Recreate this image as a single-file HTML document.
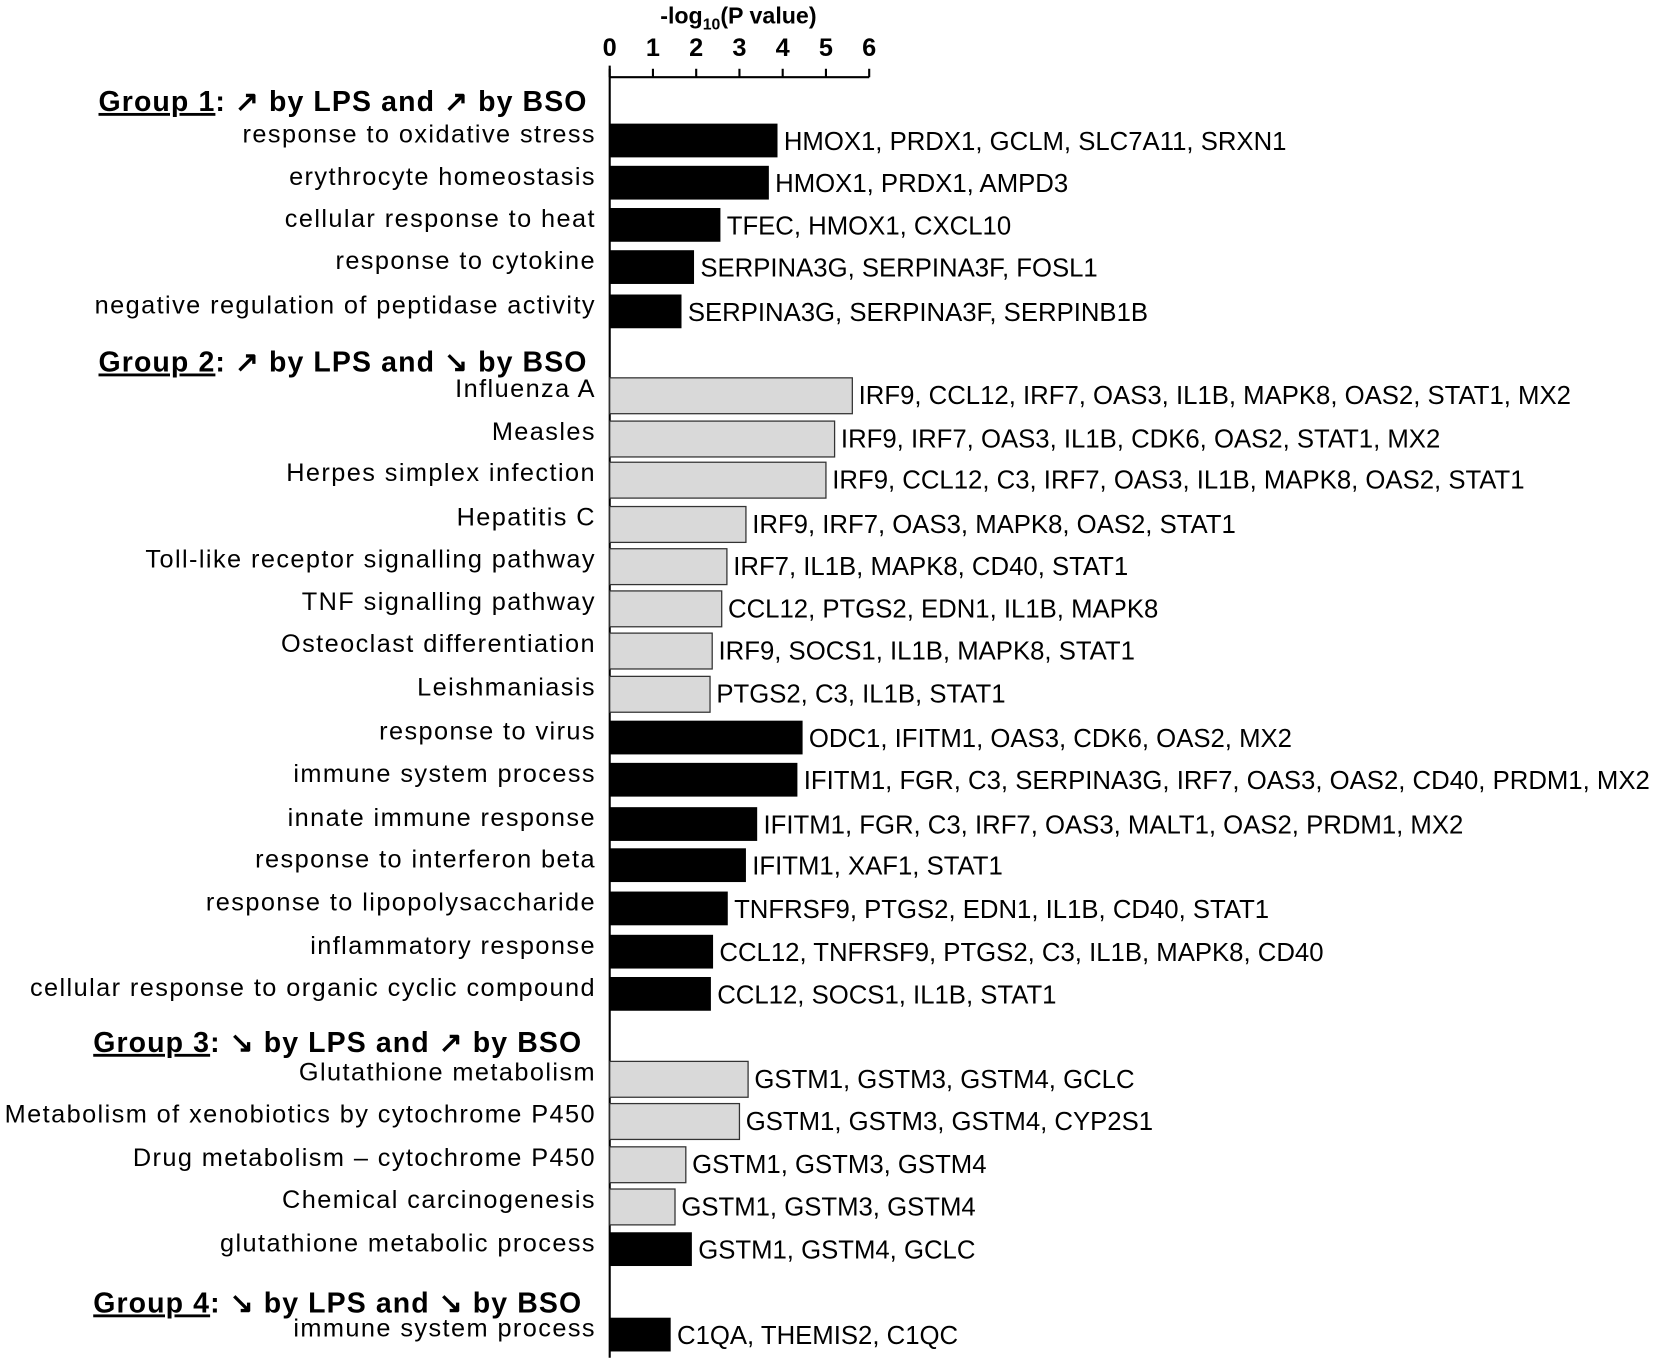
<!DOCTYPE html>
<html><head><meta charset="utf-8"><style>
html,body{margin:0;padding:0;background:#fff}
svg{display:block}
text{font-family:"Liberation Sans",sans-serif;fill:#000}
</style></head><body>
<svg id="chart" width="1654" height="1358" viewBox="0 0 1568 1287" xmlns="http://www.w3.org/2000/svg">
<text x="700" y="22" text-anchor="middle" font-weight="bold" font-size="22">-log<tspan font-size="15" dy="6">10</tspan><tspan dy="-6">(P value)</tspan></text>
<g id="axis"></g><g id="bars"></g><g id="labels"></g>
</svg>
<script>
const categories=["response to oxidative stress","erythrocyte homeostasis","cellular response to heat","response to cytokine","negative regulation of peptidase activity","Influenza A","Measles","Herpes simplex infection","Hepatitis C","Toll-like receptor signalling pathway","TNF signalling pathway","Osteoclast differentiation","Leishmaniasis","response to virus","immune system process","innate immune response","response to interferon beta","response to lipopolysaccharide","inflammatory response","cellular response to organic cyclic compound","Glutathione metabolism","Metabolism of xenobiotics by cytochrome P450","Drug metabolism – cytochrome P450","Chemical carcinogenesis","glutathione metabolic process","immune system process"];
const values=[3.88,3.68,2.56,1.95,1.66,5.61,5.2,5.0,3.15,2.71,2.59,2.37,2.32,4.46,4.34,3.41,3.15,2.73,2.39,2.34,3.2,3.0,1.76,1.51,1.9,1.41];
const kinds=["go","go","go","go","go","kegg","kegg","kegg","kegg","kegg","kegg","kegg","kegg","go","go","go","go","go","go","go","kegg","kegg","kegg","kegg","go","go"];
const genes=["HMOX1, PRDX1, GCLM, SLC7A11, SRXN1","HMOX1, PRDX1, AMPD3","TFEC, HMOX1, CXCL10","SERPINA3G, SERPINA3F, FOSL1","SERPINA3G, SERPINA3F, SERPINB1B","IRF9, CCL12, IRF7, OAS3, IL1B, MAPK8, OAS2, STAT1, MX2","IRF9, IRF7, OAS3, IL1B, CDK6, OAS2, STAT1, MX2","IRF9, CCL12, C3, IRF7, OAS3, IL1B, MAPK8, OAS2, STAT1","IRF9, IRF7, OAS3, MAPK8, OAS2, STAT1","IRF7, IL1B, MAPK8, CD40, STAT1","CCL12, PTGS2, EDN1, IL1B, MAPK8","IRF9, SOCS1, IL1B, MAPK8, STAT1","PTGS2, C3, IL1B, STAT1","ODC1, IFITM1, OAS3, CDK6, OAS2, MX2","IFITM1, FGR, C3, SERPINA3G, IRF7, OAS3, OAS2, CD40, PRDM1, MX2","IFITM1, FGR, C3, IRF7, OAS3, MALT1, OAS2, PRDM1, MX2","IFITM1, XAF1, STAT1","TNFRSF9, PTGS2, EDN1, IL1B, CD40, STAT1","CCL12, TNFRSF9, PTGS2, C3, IL1B, MAPK8, CD40","CCL12, SOCS1, IL1B, STAT1","GSTM1, GSTM3, GSTM4, GCLC","GSTM1, GSTM3, GSTM4, CYP2S1","GSTM1, GSTM3, GSTM4","GSTM1, GSTM3, GSTM4","GSTM1, GSTM4, GCLC","C1QA, THEMIS2, C1QC"];
const barTops=[117,157,197,237,279,358,399,438,480,520,560,600,641,683,723,765,804,845,886,926,1006,1046,1087,1127,1168,1249];
const groupNames=["Group 1","Group 2","Group 3","Group 4"];
const groupArrows=[["↗","↗"],["↗","↘"],["↘","↗"],["↘","↘"]];
const groupY=[105,352,997,1244];
const ticks=[0,1,2,3,4,5,6];
const NS="http://www.w3.org/2000/svg";
const X0=578,UNIT=41,BH=32;
const xs=v=>X0+v*UNIT;
function mk(t,a,p){const e=document.createElementNS(NS,t);for(const k in a)e.setAttribute(k,a[k]);p.appendChild(e);return e;}
const ax=document.getElementById('axis'),bg=document.getElementById('bars'),lg=document.getElementById('labels');
const axl=mk('line',{x1:xs(0),y1:73,x2:xs(6),y2:73,stroke:'#000','stroke-width':2},ax);


const yl=mk('line',{x1:X0,y1:62,x2:X0,y2:1287,stroke:'#000','stroke-width':2},ax);


ticks.forEach(t=>{
 const tk=mk('line',{x1:xs(t),y1:65,x2:xs(t),y2:73,stroke:'#000','stroke-width':2},ax);
 
 
 const tl=mk('text',{x:xs(t),y:53,'text-anchor':'middle','font-weight':'bold','font-size':24},ax);
 
 
 tl.textContent=t;
});
categories.forEach((c,i)=>{
 const y=barTops[i],go=kinds[i]==='go';
 const r=mk('rect',{x:X0,y:y,width:xs(values[i])-X0,height:go?BH:BH+2,fill:go?'#000':'#d9d9d9',stroke:go?'none':'#333','stroke-width':1.2},bg);
 
 
 const l=mk('text',{x:565,y:y+18,'text-anchor':'end','font-size':24,'letter-spacing':1.35},lg);
 
 
 l.textContent=c;
 const g=mk('text',{x:xs(values[i])+6,y:y+BH/2+9,'font-size':24.4},lg);
 
 
 g.textContent=genes[i];
});
groupNames.forEach((n,i)=>{
 const t=mk('text',{x:557-(i>=2?5:0),y:groupY[i],'text-anchor':'end','font-weight':'bold','font-size':27,'letter-spacing':1.05},lg);
 
 
 const a=mk('tspan',{'text-decoration':'underline'},t);a.textContent=n;
 const b=mk('tspan',{},t);b.textContent=': '+groupArrows[i][0]+' by LPS and '+groupArrows[i][1]+' by BSO';
});
</script>
</body></html>
